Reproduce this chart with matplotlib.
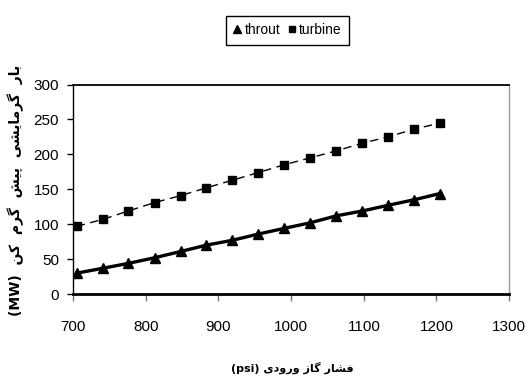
import matplotlib.pyplot as plt
from matplotlib.ticker import MultipleLocator

plt.rcParams.update({'font.family': ['Liberation Sans', 'DejaVu Sans']})

pressure = [705, 741, 776, 812, 848, 883, 919, 955, 990, 1026, 1062, 1098, 1133, 1169, 1205]
throut = [30, 37, 44, 52, 61, 70, 77, 86, 94, 102, 112, 119, 127, 135, 144]
turbine = [97, 107, 119, 131, 141, 152, 163, 174, 185, 195, 205, 216, 225, 236, 245]
series_names = ['throut', 'turbine']
x_label = 'فشار گاز ورودی'
x_unit = '(psi)'
y_label = 'بار گرمایشی پیش گرم کن'
y_unit = '(MW)'

# minimal Persian shaping (matplotlib has no text shaping / bidi)
FORMS = {
    'ا': ('\uFE8D', '\uFE8E'), 'ر': ('\uFEAD', '\uFEAE'), 'ز': ('\uFEAF', '\uFEB0'),
    'و': ('\uFEED', '\uFEEE'), 'د': ('\uFEA9', '\uFEAA'),
    'ب': ('\uFE8F', '\uFE90', '\uFE91', '\uFE92'), 'م': ('\uFEE1', '\uFEE2', '\uFEE3', '\uFEE4'),
    'ش': ('\uFEB5', '\uFEB6', '\uFEB7', '\uFEB8'), 'ن': ('\uFEE5', '\uFEE6', '\uFEE7', '\uFEE8'),
    'ف': ('\uFED1', '\uFED2', '\uFED3', '\uFED4'), 'پ': ('\uFB56', '\uFB57', '\uFB58', '\uFB59'),
    'گ': ('\uFB92', '\uFB93', '\uFB94', '\uFB95'), 'ک': ('\uFB8E', '\uFB8F', '\uFB90', '\uFB91'),
    'ی': ('\uFBFC', '\uFBFD', '\uFBFE', '\uFBFF'),
}


def shape(text):
    out = []
    for i, ch in enumerate(text):
        if ch not in FORMS:
            out.append(ch)
            continue
        prev = text[i - 1] if i > 0 else ''
        nxt = text[i + 1] if i + 1 < len(text) else ''
        jp = prev in FORMS and len(FORMS[prev]) == 4
        jn = len(FORMS[ch]) == 4 and nxt in FORMS
        f = FORMS[ch]
        if jp and jn:
            out.append(f[3])
        elif jn:
            out.append(f[2])
        elif jp:
            out.append(f[1])
        else:
            out.append(f[0])
    return ''.join(out)[::-1]


fig = plt.figure(figsize=(5.26, 3.79), dpi=100)
ax = fig.add_axes([0.139, 0.224, 0.829, 0.553])

ax.plot(pressure, throut, color='black', lw=2.4, marker='^', ms=7, label=series_names[0])
ax.plot(pressure, turbine, color='black', lw=1.0, ls=(0, (6, 4)), marker='s', ms=6, label=series_names[1])

ax.set_xlim(700, 1300)
ax.set_ylim(0, 300)
ax.xaxis.set_major_locator(MultipleLocator(100))
ax.yaxis.set_major_locator(MultipleLocator(50))
ax.tick_params(axis='y', direction='out', length=4, width=1, pad=6, labelsize=11)
ax.tick_params(axis='x', direction='out', length=5, width=1, color='#777777', pad=14, labelsize=11)

ax.spines['left'].set_linewidth(1.0)
ax.spines['bottom'].set_linewidth(2.0)
ax.spines['top'].set_linewidth(1.3)
ax.spines['right'].set_color('#999999')
ax.spines['right'].set_linewidth(1.0)

fig.text(0.555, 0.03, x_unit + ' ' + shape(x_label), ha='center', va='center',
         fontsize=8, fontweight='bold', family=['DejaVu Sans'])
fig.text(0.03, 0.497, y_unit + '  ' + shape(y_label).replace(' ', '  '), ha='center', va='center',
         rotation=90, fontsize=10, fontweight='bold', family=['DejaVu Sans'])

leg = ax.legend(loc='center', bbox_to_anchor=(0.547, 0.92), bbox_transform=fig.transFigure,
                ncol=2, handlelength=0.5, handletextpad=0.25, columnspacing=0.6,
                fancybox=False, edgecolor='black', framealpha=1, fontsize=10,
                borderpad=0.55, markerscale=0.8)
leg.get_frame().set_linewidth(1.0)
for h in leg.legend_handles:
    h.set_linestyle('none')

fig.savefig('out.png', dpi=100)
